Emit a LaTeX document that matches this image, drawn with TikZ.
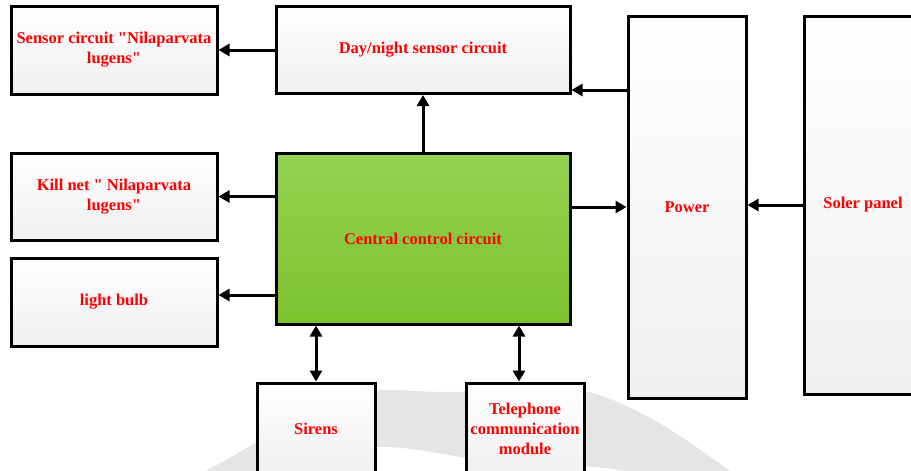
\documentclass[tikz,border=0pt]{standalone}
\usepackage{fontspec}
\setmainfont{Liberation Serif}
\usetikzlibrary{arrows.meta,shadows}
\definecolor{txtred}{RGB}{255,0,0}
\definecolor{greentop}{RGB}{148,210,80}
\definecolor{greenbot}{RGB}{124,194,46}
\newcommand{\qd}{\textquotedbl}
\tikzset{
  box/.style={draw=black, line width=3pt, rectangle, top color=white, bottom color=black!6,
    align=center, inner sep=2pt, text=txtred,
    font=\fontsize{16.5}{20}\selectfont\bfseries,
    drop shadow={shadow xshift=1.5pt, shadow yshift=-1.5pt, fill=black!25, opacity=0.6}},
  greenbox/.style={box, top color=greentop, bottom color=greenbot},
  arr/.style={line width=3pt, -{Triangle[length=11pt,width=12pt]}},
  biarr/.style={line width=3pt, {Triangle[length=11pt,width=12pt]}-{Triangle[length=11pt,width=12pt]}},
}
\begin{document}
\begin{tikzpicture}[x=1pt,y=-1pt]
\useasboundingbox (0,0) rectangle (911,471);
\clip (0,0) rectangle (911,471);
% watermark swoosh
\fill[black!10] (205,471) .. controls (260,445) and (330,385) .. (400,390)
  .. controls (470,396) and (540,385) .. (590,392)
  .. controls (650,410) and (700,450) .. (730,471)
  -- (625,471) .. controls (580,462) and (520,468) .. (466,458)
  .. controls (420,450) and (390,444) .. (360,448)
  .. controls (320,455) and (290,465) .. (265,471) -- cycle;
% nodes
\node[box, minimum width=206pt, minimum height=88pt] (sensor) at (114,50) {Sensor circuit \qd Nilaparvata\\lugens\qd};
\node[box, minimum width=294pt, minimum height=87pt] (dn) at (423,50) {Day/night sensor circuit};
\node[box, minimum width=118pt, minimum height=382pt] (power) at (687,207) {Power};
\node[box, minimum width=118pt, minimum height=378pt] (soler) at (863,205) {Soler panel};
\node[box, minimum width=206pt, minimum height=87pt] (kill) at (114,196.5) {Kill net \qd\ Nilaparvata\\lugens\qd};
\node[box, minimum width=206pt, minimum height=88pt] (bulb) at (114,302) {light bulb};
\node[greenbox, minimum width=294pt, minimum height=171pt] (cc) at (423,238.5) {Central control circuit};
\node[box, minimum width=118pt, minimum height=92pt] (sirens) at (316,429) {Sirens};
\node[box, minimum width=118pt, minimum height=92pt] (tel) at (525,429) {Telephone\\communication\\module};
% helper coordinates
\coordinate (y90) at (0,90);
\coordinate (y295) at (0,295);
\coordinate (x519) at (519,0);
% connectors
\draw[arr] (dn.west) -- (sensor.east |- dn.west);
\draw[arr] (cc.north) -- (dn.south);
\draw[arr] (power.west |- y90) -- (dn.east |- y90);
\draw[arr] (cc.west |- kill) -- (kill.east);
\draw[arr] (cc.west |- y295) -- (bulb.east |- y295);
\draw[arr] (cc.east |- power) -- (power.west);
\draw[arr] (soler.west) -- (power.east |- soler);
\draw[biarr] (cc.south -| sirens) -- (sirens.north);
\draw[biarr] (cc.south -| x519) -- (tel.north -| x519);
\end{tikzpicture}
\end{document}
